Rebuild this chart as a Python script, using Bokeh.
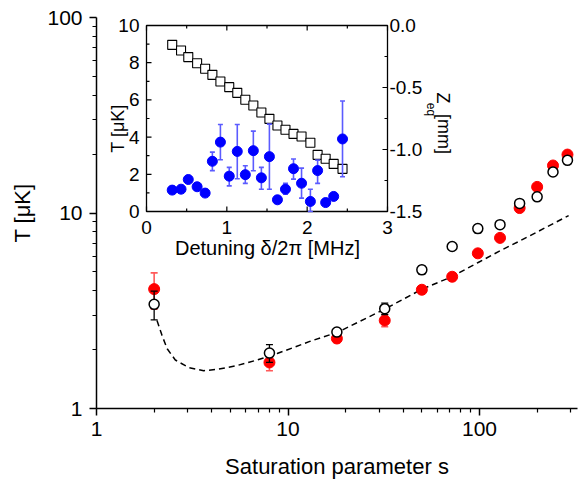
import math
from bokeh.plotting import figure
from bokeh.models import Range1d, LinearScale, FixedTicker, PrintfTickFormatter
from bokeh.core.properties import value
from bokeh.embed import file_html
from bokeh.resources import INLINE

# ---------------- main panel data ----------------
sat = [2, 8, 18, 32, 50, 72, 98, 128, 162, 200, 242, 288]
T_red = [4.08, 1.72, 2.28, 2.82, 4.05, 4.72, 6.22, 7.46, 10.6, 13.6, 17.5, 19.9]
T_red_err = [0.86, 0.16, 0.1, 0.2, 0.15, 0.15, 0.2, 0.2, 0.3, 0.4, 0.5, 0.6]
T_open = [3.41, 1.92, 2.46, 3.24, 5.12, 6.74, 8.32, 8.72, 11.2, 12.1, 16.2, 18.6]
T_open_err = [0.57, 0.2, 0.1, 0.22, 0.25, 0.2, 0.4, 0.2, 0.3, 0.3, 0.4, 0.4]

curve_s = [2.07, 2.20, 2.34, 2.58, 3.03, 3.63, 4.35, 5.43, 6.90, 8.78, 13.1, 16.7,
           18.1, 32.3, 50.2, 72, 99, 129, 164, 292]
curve_T = [2.82, 2.36, 2.02, 1.77, 1.62, 1.56, 1.59, 1.66, 1.77, 1.91, 2.21, 2.39,
           2.45, 3.24, 4.08, 4.73, 5.6, 6.43, 7.23, 9.7]

x_major = [1, 10, 100]
x_minor = [2, 3, 4, 5, 6, 7, 8, 9, 20, 30, 40, 50, 60, 70, 80, 90, 200, 300]
y_major = [1, 10, 100]
y_minor = [2, 3, 4, 5, 6, 7, 8, 9, 20, 30, 40, 50, 60, 70, 80, 90]

# ---------------- inset data ----------------
det = [0.32, 0.43, 0.52, 0.63, 0.73, 0.82, 0.92, 1.03, 1.13, 1.23, 1.33, 1.43,
       1.53, 1.63, 1.73, 1.83, 1.93, 2.04, 2.13, 2.23, 2.33, 2.44]
T_in = [1.15, 1.2, 1.72, 1.33, 0.99, 2.70, 3.73, 1.90, 3.23, 1.98, 3.27, 1.81,
        2.95, 0.63, 1.2, 2.30, 1.52, 0.54, 2.20, 0.48, 0.81, 3.9]
T_in_hi = [1.25, 1.3, 1.82, 1.43, 1.09, 3.19, 4.68, 2.37, 4.68, 2.46, 4.32, 2.37,
           4.70, 0.73, 1.51, 2.82, 2.33, 1.2, 2.76, 0.58, 0.91, 5.94]
T_in_lo = [1.05, 1.1, 1.62, 1.23, 0.89, 2.20, 2.78, 1.38, 1.76, 1.51, 2.19, 1.20,
           1.20, 0.53, 0.93, 1.74, 0.72, 0.0, 1.51, 0.38, 0.71, 1.87]
Z_eq = [-0.156, -0.202, -0.255, -0.304, -0.349, -0.398, -0.452, -0.497, -0.543,
        -0.599, -0.645, -0.702, -0.753, -0.806, -0.841, -0.874, -0.895, -0.946,
        -1.043, -1.075, -1.116, -1.156]

in_x_major = [0, 1, 2, 3]
in_x_minor = [0.5, 1.5, 2.5]
in_T_major = [0, 2, 4, 6, 8, 10]
in_T_minor = [1, 3, 5, 7, 9]
in_Z_major = [0.0, -0.5, -1.0, -1.5]
in_Z_minor = [-0.25, -0.75, -1.25]
in_x_labels = ["0", "1", "2", "3"]
in_T_labels = ["0", "2", "4", "6", "8", "10"]
in_Z_labels = ["0.0", "-0.5", "-1.0", "-1.5"]

# ---------------- layout constants (figure pixels) ----------------
W, H = 584, 481
FL, FR, FT, FB = 96, 577, 17, 408
DEC_X = 191.5
DEC_Y = (FB - FT) / 2.0
IL, IR, IT, IB = 146, 387, 25, 211
pxu = (IR - IL) / 3.0
pyu = (IB - IT) / 10.0
pzu = (IB - IT) / 1.5
FONT = "Liberation Sans"

def ix_of(px):
    return (px - IL) / pxu

def iy_of(py):
    return (IB - py) / pyu

def iz_of(py):
    return -1.5 + (IB - py) / pzu

x_end = 10 ** ((FR - FL) / DEC_X)

p = figure(width=W, height=H, x_axis_type="log", y_axis_type="log",
           x_range=Range1d(1, x_end), y_range=Range1d(1, 100),
           output_backend="svg", toolbar_location=None,
           min_border_left=FL, min_border_right=W - FR,
           min_border_top=FT, min_border_bottom=H - FB)
p.outline_line_color = None
p.xgrid.visible = False
p.ygrid.visible = False
p.background_fill_color = "white"
p.border_fill_color = "white"

for ax, maj, mnr in ((p.xaxis[0], x_major, x_minor), (p.yaxis[0], y_major, y_minor)):
    ax.ticker = FixedTicker(ticks=maj, minor_ticks=mnr)
    ax.formatter = PrintfTickFormatter(format="%d")
    ax.axis_line_width = 1.5
    ax.major_tick_line_width = 1.5
    ax.minor_tick_line_width = 1.2
    ax.major_tick_out = 7
    ax.major_tick_in = 0
    ax.minor_tick_out = 4
    ax.minor_tick_in = 0
    ax.major_label_text_font = FONT
    ax.major_label_text_font_size = "21px"
    ax.major_label_text_color = "black"
    ax.axis_label_text_font = FONT
    ax.axis_label_text_font_size = "22px"
    ax.axis_label_text_font_style = "normal"
    ax.axis_label_text_color = "black"

p.xaxis.major_label_standoff = 6
p.yaxis.major_label_standoff = 7
p.yaxis.axis_label = "T [\u03bcK]"
p.yaxis.axis_label_standoff = 9
p.xaxis.axis_label = "Saturation parameter s"
p.xaxis.axis_label_standoff = 15

# ---------------- inset in extra ranges ----------------
p.extra_x_ranges = {"ix": Range1d(0 - (IL - FL) / pxu, 3 + (FR - IR) / pxu)}
p.extra_x_scales = {"ix": LinearScale()}
p.extra_y_ranges = {"iy": Range1d(0 - (FB - IB) / pyu, 10 + (IT - FT) / pyu),
                    "iz": Range1d(-1.5 - (FB - IB) / pzu, 0 + (IT - FT) / pzu)}
p.extra_y_scales = {"iy": LinearScale(), "iz": LinearScale()}

IX = dict(x_range_name="ix", y_range_name="iy")
IZ = dict(x_range_name="ix", y_range_name="iz")

p.quad(left=[in_x_major[0]], right=[in_x_major[-1]], bottom=[in_T_major[0]],
       top=[in_T_major[-1]], fill_color="white", line_color="black", line_width=1.3, **IX)

# inset ticks (inward)
def rays(xs, ys, ang, length, rng):
    p.ray(x=xs, y=ys, length=length, length_units="screen", angle=ang,
          line_color="black", line_width=1.2, **rng)

rays([in_x_major[0]] * len(in_T_major), in_T_major, 0, 5, IX)
rays([in_x_major[0]] * len(in_T_minor), in_T_minor, 0, 3, IX)
rays([in_x_major[-1]] * len(in_Z_major), in_Z_major, math.pi, 5, IZ)
rays([in_x_major[-1]] * len(in_Z_minor), in_Z_minor, math.pi, 3, IZ)
rays(in_x_major, [in_T_major[0]] * len(in_x_major), math.pi / 2, 5, IX)
rays(in_x_minor, [in_T_major[0]] * len(in_x_minor), math.pi / 2, 3, IX)
rays(in_x_major, [in_T_major[-1]] * len(in_x_major), -math.pi / 2, 5, IX)
rays(in_x_minor, [in_T_major[-1]] * len(in_x_minor), -math.pi / 2, 3, IX)

TXT = dict(text_font=value(FONT), text_color="black")
p.text(x=[in_x_major[0]] * len(in_T_major), y=in_T_major, text=in_T_labels,
       x_offset=-7, text_align="right", text_baseline="middle",
       text_font_size=value("19px"), **TXT, **IX)
p.text(x=[in_x_major[-1]] * len(in_Z_major), y=in_Z_major, text=in_Z_labels,
       x_offset=2, text_align="left", text_baseline="middle",
       text_font_size=value("19px"), **TXT, **IZ)
p.text(x=in_x_major, y=[iy_of(227)] * len(in_x_major), text=in_x_labels,
       text_align="center", text_baseline="middle",
       text_font_size=value("19px"), **TXT, **IX)
p.text(x=[ix_of(267)], y=[iy_of(247)], text=["Detuning \u03b4/2\u03c0 [MHz]"],
       text_align="center", text_baseline="middle",
       text_font_size=value("20px"), **TXT, **IX)
p.text(x=[ix_of(117.5)], y=[iy_of(128)], text=["T [\u03bcK]"], angle=math.pi / 2,
       text_align="center", text_baseline="middle",
       text_font_size=value("18px"), **TXT, **IX)
p.text(x=[ix_of(442.5)], y=[iz_of(97.5)], text=["Z"], angle=-math.pi / 2,
       text_align="center", text_baseline="middle",
       text_font_size=value("18px"), **TXT, **IZ)
p.text(x=[ix_of(430.5)], y=[iz_of(109)], text=["eq"], angle=-math.pi / 2,
       text_align="center", text_baseline="middle",
       text_font_size=value("12px"), **TXT, **IZ)
p.text(x=[ix_of(443)], y=[iz_of(133.5)], text=["[mm]"], angle=-math.pi / 2,
       text_align="center", text_baseline="middle",
       text_font_size=value("18px"), **TXT, **IZ)

# inset data
p.scatter(det, Z_eq, marker="square", size=9, fill_color="white",
          line_color="black", line_width=1.1, **IZ)
BLUE_ERR = "#5b5bff"
p.segment(x0=det, y0=T_in_lo, x1=det, y1=T_in_hi, line_color=BLUE_ERR, line_width=1.6, **IX)
p.scatter(det, T_in_hi, marker="dash", size=5, line_color=BLUE_ERR, line_width=1.6, **IX)
p.scatter(det, T_in_lo, marker="dash", size=5, line_color=BLUE_ERR, line_width=1.6, **IX)
p.scatter(det, T_in, marker="circle", size=10, fill_color="#0000ff",
          line_color="#0000ff", **IX)

# ---------------- main data ----------------
p.line(curve_s, curve_T, line_color="black", line_width=1.5, line_dash="6 4")

red_hi = [t + e for t, e in zip(T_red, T_red_err)]
red_lo = [t - e for t, e in zip(T_red, T_red_err)]
RED_ERR = "#ff5a5a"
p.segment(x0=sat, y0=red_lo, x1=sat, y1=red_hi, line_color=RED_ERR, line_width=1.6)
p.scatter(sat, red_hi, marker="dash", size=7, line_color=RED_ERR, line_width=1.6)
p.scatter(sat, red_lo, marker="dash", size=7, line_color=RED_ERR, line_width=1.6)
p.scatter(sat, T_red, marker="circle", size=11, fill_color="#ff0000", line_color="#ff0000")

op_hi = [t + e for t, e in zip(T_open, T_open_err)]
op_lo = [t - e for t, e in zip(T_open, T_open_err)]
p.segment(x0=sat, y0=op_lo, x1=sat, y1=op_hi, line_color="black", line_width=1.3)
p.scatter(sat, op_hi, marker="dash", size=7, line_color="black", line_width=1.3)
p.scatter(sat, op_lo, marker="dash", size=7, line_color="black", line_width=1.3)
p.scatter(sat, T_open, marker="circle", size=10, fill_color="white",
          line_color="black", line_width=1.5)

open("out.html", "w").write(file_html(p, INLINE))
